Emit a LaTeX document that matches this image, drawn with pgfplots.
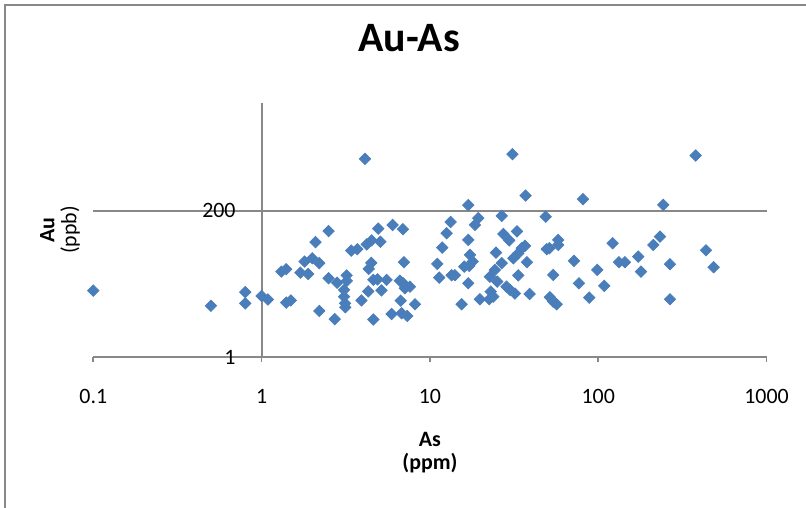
\documentclass[border=0pt]{standalone}
\usepackage{pgfplots}
\pgfplotsset{compat=1.18}
\usepackage{fontspec}
\setmainfont{Carlito}
\definecolor{pt}{HTML}{4A7EBB}
\definecolor{ax}{HTML}{888888}

\begin{document}
\begin{tikzpicture}
\path[use as bounding box] (0,0) rectangle (403bp,-254bp);
\draw[ax, line width=0.7bp] (2.5bp,-254bp) -- (2.5bp,-2.5bp) -- (403bp,-2.5bp);
\begin{axis}[
  at={(46.65bp,-178.5bp)}, anchor=south west,
  scale only axis, width=336.65bp, height=127bp,
  xmode=log, ymode=log,
  xmin=0.1, xmax=1000, ymin=1, ymax=10000,
  axis x line*=bottom, axis y line*=middle,
  axis line style={ax, line width=1bp},
  xtick={0.1,1,10,100,1000}, xticklabels={0.1,1,10,100,1000},
  ytick={1,200}, yticklabels={1,200},
  xminorticks=false, yminorticks=false,
  hide obscured x ticks=false, hide obscured y ticks=false,
  ymajorgrids, grid style={ax, line width=0.8bp},
  x tick style={ax, line width=0.8bp}, major tick length=2.5bp,
  tick align=outside,
  y tick style={draw=none},
  tick label style={font=\fontsize{11}{13}\selectfont},
  xticklabel style={anchor=north, yshift=-10bp},
  yticklabel style={anchor=east, xshift=-7bp},
  title={Au-As},
  title style={font=\bfseries\fontsize{21}{24}\selectfont,
    at={(axis description cs:0.469,1.209)}, anchor=center},
  xlabel={\textbf{As}\\\textbf{(ppm)}},
  xlabel style={font=\fontsize{11}{11.5}\selectfont, align=center,
    at={(axis description cs:0.5,0)}, anchor=north, yshift=-34bp},
  ylabel={\textbf{Au}\\(ppb)},
  ylabel style={font=\fontsize{11}{11}\selectfont, align=center,
    at={(axis description cs:-0.0495,0.5)}, anchor=center, rotate=0},
]
\addplot[only marks, mark=square*, mark size=2bp,
  mark options={rotate=45, fill=pt, draw=pt}] coordinates {
(0.1,11.1) (0.5,6.4) (0.8,10.5) (0.8,7.0) (1.0,9.15) (1.09,8.06)
(1.31,22.1) (1.40,24.1) (1.40,7.17) (1.49,7.77) (1.70,21.3) (1.89,20.3)
(1.80,31.8) (2.0,35.9) (2.2,30.0) (2.09,64.5) (2.5,96.1) (2.2,5.31)
(2.5,17.4) (2.72,3.94) (2.81,14.8) (3.2,19.3) (3.21,15.8) (3.09,11.4)
(3.09,8.92) (3.13,7.02) (3.14,6.07) (3.41,47.4) (3.70,49.8) (3.92,7.77)
(4.11,1320) (4.21,59.3) (4.50,68.6) (4.93,104.8) (5.08,65.4) (4.48,30.3)
(4.33,24.5) (4.61,16.4) (4.88,16.7) (4.30,10.8) (4.61,3.90) (5.15,11.2)
(5.53,16.4) (6.0,120) (6.91,103) (7.01,31.1) (5.92,4.76) (6.63,15.9)
(6.94,14.5) (6.70,7.72) (6.79,4.88) (7.33,4.43) (7.10,12.1) (7.61,12.8)
(8.15,6.77)
(11.05,29.2) (11.36,17.8) (11.83,52.8) (12.57,89.0) (13.27,134) (13.46,19.4)
(14.08,19.4) (15.43,6.77) (15.99,26.5) (17.12,27.2) (17.94,31.8) (17.29,40.5)
(16.89,69.8) (16.89,14.5) (16.89,246) (18.51,120) (19.36,153.5) (19.82,8.12)
(22.5,8.12) (22.7,18.4) (24.3,23.5) (25.1,15.4) (26.7,30.0) (22.95,10.7)
(23.8,8.92) (24.7,44.0) (26.7,167) (27.3,86.8) (29.6,68.6) (30.9,1565)
(32.9,95.1) (31.3,35.9) (33.5,43.1) (35.1,51.7) (36.7,56.2) (33.5,19.3)
(28.5,12.8) (29.9,11.4) (32.0,10.0) (37.0,348) (39.1,9.84) (37.7,31.1)
(48.7,162) (49.4,49.8) (51.2,51.7) (51.6,8.73) (54.0,7.44) (56.6,6.77)
(57.8,69.8) (57.8,58.2) (54.0,19.6) (71.7,32.6) (76.8,14.5) (81.1,306)
(88.4,8.60) (98.6,23.5) (108.6,13.2) (121.8,61.9) (132.7,31.1) (144.1,31.1)
(172.8,38.1) (179.4,22.1) (212.3,58.2) (232.6,78.7) (243.3,249) (266.7,28.9)
(266.7,8.12) (379,1488) (436.5,48.0) (485,25.9)
};
\end{axis}
\end{tikzpicture}
\end{document}
